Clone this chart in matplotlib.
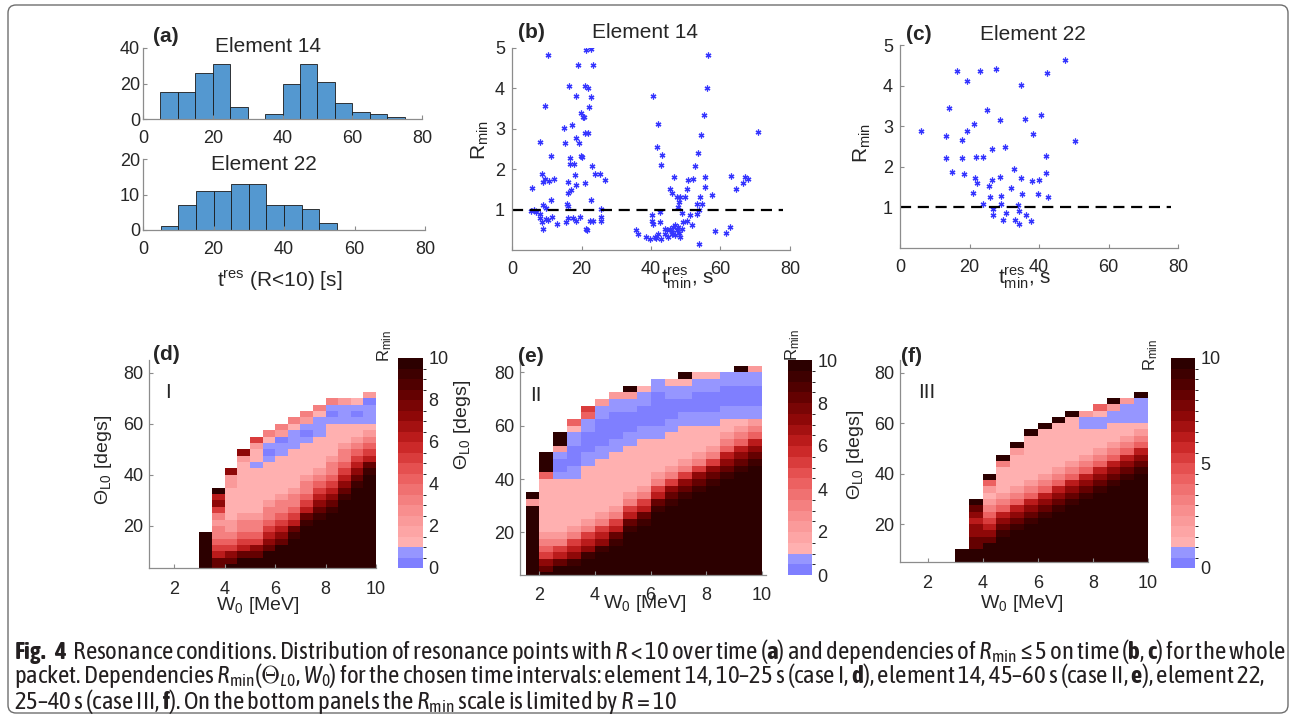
import numpy as np
import matplotlib
matplotlib.use("Agg")
import matplotlib.pyplot as plt
from matplotlib import font_manager as fm
from matplotlib.colors import ListedColormap, BoundaryNorm, LinearSegmentedColormap
from matplotlib.patches import FancyBboxPatch

W, H = 1296, 720


def wnum(w):
    return w if isinstance(w, (int, float)) else fm.weight_dict.get(w, 400)


# caption font: a narrow / condensed sans if one is installed
ents = fm.fontManager.ttflist
fams = {}
for f in ents:
    if "Narrow" in f.name or "Condensed" in f.name:
        fams.setdefault(f.name, set()).add((wnum(f.weight) >= 600, f.style != "normal"))
with_bold = [n for n, s in fams.items() if (True, False) in s]
cap_font, cap_bold = "Liberation Sans", "Liberation Sans:bold"
if "Liberation Sans Narrow" in with_bold:
    cap_font = "Liberation Sans Narrow"
    cap_bold = cap_font + ":bold"
elif with_bold:
    cap_font = with_bold[0]
    cap_bold = cap_font + ":bold"
elif fams:
    cap_font = sorted(fams)[0]

plt.rcParams["font.family"] = ["Liberation Sans", "DejaVu Sans"]
plt.rcParams["mathtext.fontset"] = "custom"
plt.rcParams["mathtext.sf"] = "Liberation Sans"
plt.rcParams["mathtext.rm"] = cap_font
plt.rcParams["mathtext.it"] = cap_font + ":italic"
plt.rcParams["mathtext.bf"] = cap_bold

# ---- (a) histograms, 5 s bins
a14_left = [5, 10, 15, 20, 25, 30, 35, 40, 45, 50, 55, 60, 65, 70]
a14_counts = [15, 15, 26, 31, 7, 0, 3, 20, 31, 21, 9, 4, 3, 1]
a22_left = [5, 10, 15, 20, 25, 30, 35, 40, 45, 50]
a22_counts = [1, 7, 11, 11, 13, 13, 7, 7, 6, 2]
bin_w = 5

# ---- (b) element 14: (t_min^res, R_min)
b_points = [
    (5.8, 1.54), (5.4, 0.97), (8.1, 2.68), (8.5, 1.87), (8.9, 1.69), (9.6, 1.75),
    (9.5, 3.57), (10.5, 4.82), (11.2, 2.33), (10.6, 1.71), (11.3, 1.25), (12.2, 1.75),
    (8.8, 1.11), (8.0, 0.90), (8.2, 0.78), (8.7, 0.70), (8.8, 0.53), (9.7, 0.77),
    (10.4, 0.75), (11.6, 0.82), (12.9, 0.65), (6.4, 0.98), (7.0, 0.94), (9.9, 1.05),
    (15.0, 3.03), (15.3, 2.66), (15.9, 1.15), (16.0, 1.69), (16.2, 1.41), (16.4, 4.07),
    (16.7, 2.27), (17.2, 3.09), (16.8, 2.12), (17.7, 2.12), (17.1, 1.48), (16.2, 1.08),
    (15.6, 0.69), (16.1, 0.78), (17.6, 0.78), (18.1, 1.85), (18.3, 1.60), (18.5, 3.80),
    (18.4, 2.78), (19.1, 4.59), (19.2, 2.66), (19.5, 0.82), (19.8, 3.39), (19.8, 2.33),
    (20.1, 2.31), (20.4, 3.30), (20.7, 3.28), (20.9, 4.05), (21.0, 1.65), (21.1, 2.89),
    (21.2, 0.53), (21.6, 0.50), (21.8, 4.01), (21.4, 4.96), (21.9, 2.89), (22.1, 3.55),
    (22.7, 4.98), (22.7, 3.78), (22.7, 1.23), (22.9, 2.08), (23.2, 4.58), (22.4, 0.71),
    (23.3, 0.71), (23.8, 1.89), (25.3, 1.89), (25.5, 1.02), (25.6, 0.82), (25.5, 0.71),
    (26.8, 1.73), (18.5, 0.73),
    (40.6, 3.82), (42.1, 3.11), (41.8, 2.56), (43.3, 2.35), (42.9, 2.10), (35.8, 0.49),
    (38.7, 0.32), (39.8, 0.28), (40.2, 0.73), (40.6, 0.65), (41.1, 0.32), (42.6, 0.69),
    (42.1, 0.40), (43.0, 0.28), (44.1, 0.40), (44.5, 0.49), (44.9, 0.32), (45.4, 0.53),
    (45.9, 0.40), (46.4, 0.57), (46.9, 0.36), (47.4, 0.49), (47.8, 0.57), (48.3, 0.32),
    (48.8, 0.53), (49.3, 0.69), (45.4, 1.52), (45.9, 1.40), (46.6, 1.81), (47.4, 1.31),
    (48.3, 1.31), (49.8, 1.31), (48.1, 1.19), (47.8, 1.07), (48.8, 0.92), (50.3, 1.52),
    (50.7, 1.73), (51.2, 0.86), (50.5, 0.73), (51.7, 0.61), (52.2, 1.75), (52.7, 2.08),
    (53.1, 1.15), (53.3, 0.90), (53.6, 2.41), (53.8, 0.98), (53.9, 0.14), (54.3, 2.85),
    (54.1, 1.31), (54.6, 1.15), (55.3, 3.34), (55.5, 1.81), (55.6, 1.56), (56.1, 4.01),
    (56.4, 4.82), (57.6, 1.37), (58.4, 0.47), (61.6, 0.43), (62.7, 0.57), (63.0, 1.84),
    (64.5, 1.51), (66.6, 1.67), (67.0, 1.81), (67.8, 1.75), (70.9, 2.91), (40.2, 0.86),
    (42.6, 0.94), (36.3, 0.40), (46.0, 0.45), (47.0, 0.62), (48.0, 0.42), (44.0, 0.52),
    (41.5, 0.30),
]

# ---- (c) element 22
c_points = [
    (5.9, 2.87), (16.3, 4.36), (23.0, 4.36), (27.5, 4.40), (19.2, 4.11), (47.6, 4.63),
    (42.4, 4.32), (34.8, 4.01), (14.1, 3.46), (24.9, 3.39), (28.7, 3.16), (36.0, 3.17),
    (40.7, 3.28), (13.2, 2.75), (21.2, 3.06), (19.2, 2.87), (17.7, 2.67), (38.2, 2.81),
    (50.3, 2.63), (26.5, 2.44), (30.3, 2.50), (13.2, 2.21), (17.7, 2.21), (22.0, 2.24),
    (23.9, 2.24), (42.1, 2.26), (15.0, 1.88), (18.5, 1.82), (32.7, 1.94), (21.6, 1.72),
    (22.2, 1.59), (26.5, 1.68), (28.8, 1.76), (34.8, 1.72), (38.0, 1.64), (39.9, 1.68),
    (41.9, 1.84), (25.5, 1.52), (31.8, 1.49), (21.1, 1.35), (25.9, 1.25), (29.1, 1.27),
    (35.2, 1.33), (39.8, 1.33), (42.5, 1.26), (23.9, 1.09), (29.1, 1.09), (33.9, 1.07),
    (26.8, 0.96), (30.5, 0.87), (34.3, 0.91), (26.8, 0.81), (36.4, 0.81), (29.7, 0.69),
    (33.0, 0.69), (37.6, 0.67), (34.3, 0.60),
]
r_thresh = 1.0

# ---- (d)-(f) R_min(Theta_L0, W0) maps
# one string per W0 column (left edge in MeV), read from the bottom row
# (Theta 2.5-5 deg) upwards in 2.5 deg steps.
# b = 0-0.5, c = 0.5-1, digit n = n..n+0.5, X = 10 (saturated)
w_edges = np.arange(1.5, 10.01, 0.5)
th_edges = np.arange(2.5, 82.51, 2.5)

d_cols = {
    3.0: "XXXXXX",
    3.5: "886543323576X",
    4.0: "X875432211111227",
    4.5: "XX86543321111111127",
    5.0: "XX87543321111111c1125",
    5.5: "XXX87654332111111cbc13",
    6.0: "XXXX87654332111111ccb23",
    6.5: "XXXXX98654332111111ccc13",
    7.0: "XXXXXXX9865433211111cbc23",
    7.5: "XXXXXXXX9876543211111ccc13",
    8.0: "XXXXXXXXX98765433211111cbc3",
    8.5: "XXXXXXXXXXX987654332111ccc2",
    9.0: "XXXXXXXXXXXXX9876543211cbc1",
    9.5: "XXXXXXXXXXXXXXX98654321cccb2",
}
e_cols = {
    1.5: "XXXXXXXXXXX2X",
    2.0: "X875432111111114XXX",
    2.5: "XX8653211111111cbbc2XX",
    3.0: "XX9765321111111ccbbbcc14",
    3.5: "XXX97653211111111ccbbbcc45",
    4.0: "XXXX97653211111111ccbbbbcc2",
    4.5: "XXXXX98653211111111ccbbbbcc2",
    5.0: "XXXXXXX9865321111111ccbbbcc2X",
    5.5: "XXXXXXXX9865321111111ccbbbcc1",
    6.0: "XXXXXXXXXX98653211111ccbbbbbcc",
    6.5: "XXXXXXXXXXX98753211111ccbbbcc1",
    7.0: "XXXXXXXXXXXX98753211111ccbbcc1X",
    7.5: "XXXXXXXXXXXXX9875321111ccbbbcc1",
    8.0: "XXXXXXXXXXXXXX987532111ccbbbcc1",
    8.5: "XXXXXXXXXXXXXXX987643211ccbbbcc",
    9.0: "XXXXXXXXXXXXXXXX98764321ccbbbccX",
    9.5: "XXXXXXXXXXXXXXXXX9876432ccbbbcc2",
}
f_cols = {
    3.0: "XXX",
    3.5: "XXX8877678X",
    4.0: "XXXX8765432124X",
    4.5: "XXXXX987643211113X",
    5.0: "XXXXXX9876432111112X",
    5.5: "XXXXXXX98764321111111X",
    6.0: "XXXXXXXX98764321111111X",
    6.5: "XXXXXXXXX98764321111111X",
    7.0: "XXXXXXXXXX98764321111111X",
    7.5: "XXXXXXXXXXX98764321111cc2",
    8.0: "XXXXXXXXXXXX9876432111cc14",
    8.5: "XXXXXXXXXXXXX9876432111cc2X",
    9.0: "XXXXXXXXXXXXXX987643211ccc2",
    9.5: "XXXXXXXXXXXXXXX98764321ccccX",
}
code_val = {"b": 0.25, "c": 0.75, "X": 10.0}


def grid_from(cols):
    Z = np.full((len(th_edges) - 1, len(w_edges) - 1), np.nan)
    for w, s in cols.items():
        k = int(round((w - w_edges[0]) / 0.5))
        for r, ch in enumerate(s):
            Z[r, k] = code_val[ch] if ch in code_val else int(ch) + 0.25
    return np.ma.masked_invalid(Z)


reds_cm = LinearSegmentedColormap.from_list(
    "rr", [(0, "#ffb0b0"), (0.2, "#f78a8a"), (0.4, "#e85454"), (0.55, "#c82222"),
           (0.7, "#900808"), (0.85, "#5a0000"), (1.0, "#2c0000")])
cmap = ListedColormap(["#7f7fff", "#9696ff"] + [reds_cm(i / 17) for i in range(18)])
norm = BoundaryNorm(np.arange(0, 10.01, 0.5), cmap.N)

fig = plt.figure(figsize=(W / 100, H / 100), dpi=100)

GRAY = "#8c8c8c"
TXT = "#262626"


def add_ax(x0, y0, x1, y1):
    return fig.add_axes([x0 / W, 1 - y1 / H, (x1 - x0) / W, (y1 - y0) / H])


def style(ax, xpad=8, ypad=3):
    for s in ("top", "right"):
        ax.spines[s].set_visible(False)
    for s in ("left", "bottom"):
        ax.spines[s].set_color(GRAY)
        ax.spines[s].set_linewidth(0.9)
    ax.tick_params(direction="in", length=3, width=0.8, color=GRAY,
                   labelsize=13, labelcolor=TXT)
    ax.tick_params(axis="x", pad=xpad)
    ax.tick_params(axis="y", pad=ypad)


def ftxt(x, y, s, **kw):
    kw.setdefault("ha", "center")
    kw.setdefault("va", "center")
    kw.setdefault("color", TXT)
    return fig.text(x / W, 1 - y / H, s, **kw)


# border
fig.patches.append(FancyBboxPatch((0.08, 0.07), 12.80, 7.08,
                                  boxstyle="round,pad=0,rounding_size=0.08",
                                  transform=fig.dpi_scale_trans, fill=False,
                                  ec="#6e6e6e", lw=1.0))

# ---- (a)
hist_c = "#5498d0"
ax1 = add_ax(143, 48, 422, 119)
ax1.bar(a14_left, a14_counts, width=bin_w, align="edge", color=hist_c, ec="#1a1a1a", lw=0.6)
ax1.set_xlim(0, 80)
ax1.set_ylim(0, 40)
ax1.set_xticks([0, 20, 40, 60, 80])
ax1.set_yticks([0, 20, 40])
style(ax1, xpad=8, ypad=2)

ax2 = add_ax(143, 159, 425, 230)
ax2.bar(a22_left, a22_counts, width=bin_w, align="edge", color=hist_c, ec="#1a1a1a", lw=0.6)
ax2.set_xlim(0, 80)
ax2.set_ylim(0, 20)
ax2.set_xticks([0, 20, 40, 60, 80])
ax2.set_yticks([0, 10, 20])
style(ax2, xpad=8, ypad=2)

ftxt(166, 36, "(a)", fontsize=15, fontweight="bold")
ftxt(268, 47, "Element 14", fontsize=15)
ftxt(264, 164, "Element 22", fontsize=15)
ftxt(280, 281, r"$\mathsf{t^{res}}$ (R<10) [s]", fontsize=15)

# ---- (b), (c)
star = dict(ls="none", marker=(6, 2, 0), ms=4.2, mew=0.9, color="#3535ff")
for pts, box, lab, title, xl, yl in [
        (b_points, (512, 48, 790, 250), ((531, 33), (645, 33)), "Element 14", (688, 278), (480, 140)),
        (c_points, (900, 45, 1178, 248), ((919, 34), (1033, 34)), "Element 22", (1025, 278), (862, 143))]:
    ax = add_ax(*box)
    tt = [p[0] for p in pts]
    rr = [p[1] for p in pts]
    ax.plot(tt, rr, **star)
    ax.axhline(r_thresh, xmin=0, xmax=0.975, color="k", ls="--", lw=1.6, dashes=(5, 3))
    ax.set_xlim(0, 80)
    ax.set_ylim(0, 5)
    ax.set_xticks([0, 20, 40, 60, 80])
    ax.set_yticks([1, 2, 3, 4, 5])
    style(ax, xpad=8, ypad=5)
    ftxt(lab[0][0], lab[0][1], "(" + "bc"[pts is c_points] + ")", fontsize=15, fontweight="bold")
    ftxt(lab[1][0], lab[1][1], title, fontsize=15)
    ftxt(xl[0], xl[1], r"$\mathsf{t^{res}_{min}}$, s", fontsize=15)
    ftxt(yl[0], yl[1], r"$\mathsf{R_{min}}$", fontsize=15, rotation=90)

# ---- (d), (e), (f)
maps = [
    (d_cols, (149, 360, 376, 568), (1.0, 10.0), (3.5, 85), (398, 358, 423, 568), [0, 2, 4, 6, 8, 10],
     "(d)", (166, 355), "I", (168, 393), (385, 346), (104, 460), (258, 605)),
    (e_cols, (520, 361, 766, 575), (1.3, 10.15), (4, 84.3), (788, 360, 812, 575), [0, 2, 4, 6, 8, 10],
     "(e)", (531, 357), "II", (536, 395), (793, 345), (463, 425), (645, 603)),
    (f_cols, (900, 360, 1148, 562), (1.0, 10.0), (5, 85), (1171, 358, 1195, 568), [0, 5, 10],
     "(f)", (912, 356), "III", (927, 393), (1151, 355), (855, 455), (1022, 603)),
]
for cols, box, xlim, ylim, cbox, cticks, lab, lpos, case, cpos, rpos, ypos, xpos in maps:
    ax = add_ax(*box)
    mesh = ax.pcolormesh(w_edges, th_edges, grid_from(cols), cmap=cmap, norm=norm)
    ax.set_xlim(*xlim)
    ax.set_ylim(*ylim)
    ax.set_xticks([2, 4, 6, 8, 10])
    ax.set_yticks([20, 40, 60, 80])
    style(ax, xpad=9, ypad=4)
    cax = add_ax(*cbox)
    cb = fig.colorbar(mesh, cax=cax, ticks=cticks)
    cb.outline.set_visible(False)
    cax.tick_params(length=0, labelsize=13, labelcolor=TXT, pad=4)
    ftxt(lpos[0], lpos[1], lab, fontsize=15, fontweight="bold")
    ftxt(cpos[0], cpos[1], case, fontsize=15)
    ftxt(rpos[0], rpos[1], r"$\mathsf{R_{min}}$", fontsize=12, rotation=90)
    ftxt(ypos[0], ypos[1], r"$\mathsf{\Theta_{L0}}$ [degs]", fontsize=14, rotation=90)
    ftxt(xpos[0], xpos[1], r"$\mathsf{W_0}$ [MeV]", fontsize=14)

# ---- caption
cap_lines = [
    r"$\mathbf{Fig.\ 4}$  Resonance conditions. Distribution of resonance points with $R$ < 10 over time "
    r"($\mathbf{a}$) and dependencies of $R_{\rm min}$ ≤ 5 on time ($\mathbf{b}$, $\mathbf{c}$) for the whole",
    r"packet. Dependencies $R_{\rm min}$($\Theta_{L0}$, $W_0$) for the chosen time intervals: element 14, "
    r"10–25 s (case I, $\mathbf{d}$), element 14, 45–60 s (case II, $\mathbf{e}$), element 22,",
    r"25–40 s (case III, $\mathbf{f}$). On the bottom panels the $R_{\rm min}$ scale is limited by $R$ = 10",
]
cap_y = [651, 676, 701]
caps = [ftxt(14, y, s, ha="left", fontsize=11, family=cap_font, color="#231f20")
        for s, y in zip(cap_lines, cap_y)]
fig.canvas.draw()
rend = fig.canvas.get_renderer()
wid = caps[0].get_window_extent(rend).width
for t in caps:
    t.set_fontsize(11 * 1269 / wid)

fig.savefig("out.png", dpi=100)
